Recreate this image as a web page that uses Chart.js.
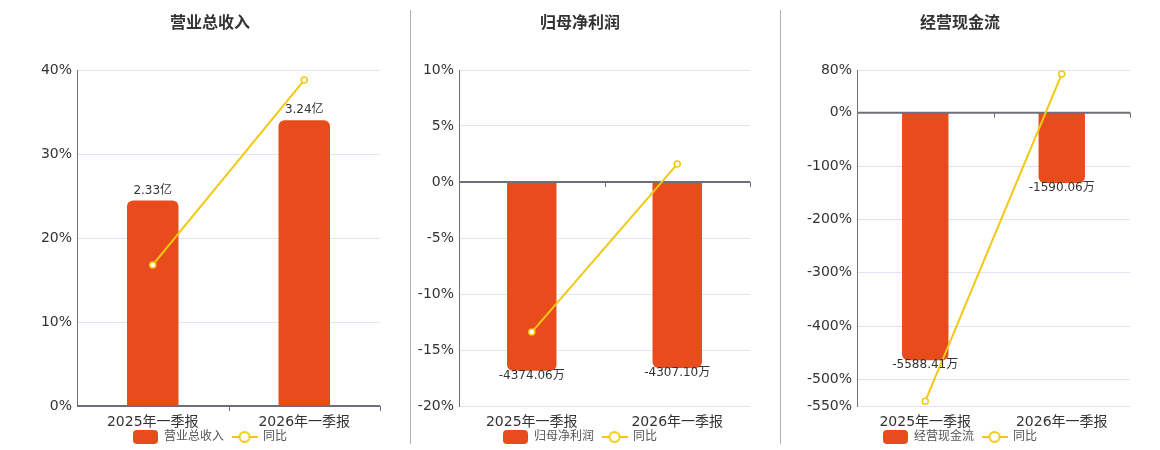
<!DOCTYPE html>
<html>
<head>
<meta charset="utf-8">
<script src="https://cdn.jsdelivr.net/npm/chart.js@4.4.1/dist/chart.umd.min.js"></script>
<style>
  body { margin: 0; background: #fff; width: 1160px; height: 450px; position: relative; overflow: hidden; }
  canvas { position: absolute; top: 0; }
  .sep { position: absolute; top: 10px; height: 434px; width: 1px; background: #b0b0b0; z-index: 2; }
</style>
</head>
<body>
<canvas id="revenueChart" width="420" height="450" style="left:0"></canvas>
<canvas id="profitChart" width="360" height="450" style="left:400px"></canvas>
<canvas id="cashChart" width="360" height="450" style="left:780px"></canvas>
<div class="sep" style="left:410px"></div>
<div class="sep" style="left:780px"></div>
<script>
// data
const periods = ["2025年一季报", "2026年一季报"];
const revenue = [2.33, 3.24]; // 亿
const revenueYoy = [16.8, 38.8]; // %
const netProfit = [-4374.06, -4307.1]; // 万
const netProfitYoy = [-13.4, 1.6];
const cashFlow = [-5588.41, -1590.06]; // 万
const cashFlowYoy = [-541, 72.3];
const revenueTicks = [0, 10, 20, 30, 40];
const profitTicks = [-20, -15, -10, -5, 0, 5, 10];
const cashTicks = [-550, -500, -400, -300, -200, -100, 0, 80];

const barColor = "#e84c1c";
const lineColor = "#f2c811";

Chart.defaults.font.family = '"DejaVu Sans", "Noto Sans CJK SC", sans-serif';
Chart.defaults.color = "#333";

// legend icons
const barIcon = document.createElement("canvas");
barIcon.width = 25;
barIcon.height = 14;
let g = barIcon.getContext("2d");
g.fillStyle = barColor;
g.beginPath();
g.roundRect(0, 0, 25, 14, 4);
g.fill();

const lineIcon = document.createElement("canvas");
lineIcon.width = 26;
lineIcon.height = 14;
g = lineIcon.getContext("2d");
g.strokeStyle = lineColor;
g.lineWidth = 2;
g.beginPath();
g.moveTo(0, 7);
g.lineTo(26, 7);
g.stroke();
g.beginPath();
g.arc(13, 7, 5, 0, Math.PI * 2);
g.fillStyle = "#fff";
g.fill();
g.stroke();

// zero axis line with small ticks, drawn right after the bars
const zeroAxis = {
  id: "zeroAxis",
  afterDatasetDraw(chart, args) {
    if (args.index !== 0) return;
    const { ctx, chartArea, scales } = chart;
    const y = scales.y.getPixelForValue(0);
    const n = chart.data.labels.length;
    const step = (chartArea.right - chartArea.left) / n;
    ctx.save();
    ctx.strokeStyle = "#6e7079";
    ctx.lineWidth = 2;
    ctx.beginPath();
    ctx.moveTo(chartArea.left, y);
    ctx.lineTo(chartArea.right, y);
    ctx.stroke();
    ctx.lineWidth = 1;
    ctx.beginPath();
    for (let i = 1; i <= n; i++) {
      const x = Math.round(chartArea.left + step * i) + 0.5;
      ctx.moveTo(x, y);
      ctx.lineTo(x, y + 5);
    }
    ctx.stroke();
    ctx.restore();
  },
};

// value labels above / below bars
const valueLabels = {
  id: "valueLabels",
  afterDatasetsDraw(chart, args, opts) {
    const ctx = chart.ctx;
    const data = chart.data.datasets[0].data;
    ctx.save();
    ctx.font = '12px "DejaVu Sans", "Noto Sans CJK SC"';
    ctx.fillStyle = "#333";
    ctx.textAlign = "center";
    chart.getDatasetMeta(0).data.forEach((bar, i) => {
      const text = data[i].toFixed(2) + opts.unit;
      if (data[i] >= 0) {
        ctx.textBaseline = "bottom";
        ctx.fillText(text, bar.x, bar.y - 4);
      } else {
        ctx.textBaseline = "top";
        ctx.fillText(text, bar.x, bar.y - 1);
      }
    });
    ctx.restore();
  },
};

function makeChart(id, title, name, values, unit, yoy, ticks, barMin, barMax, axisWidth, padRight) {
  return new Chart(document.getElementById(id), {
    type: "bar",
    data: {
      labels: periods,
      datasets: [
        {
          label: name,
          data: values,
          yAxisID: "yb",
          backgroundColor: barColor,
          borderRadius: 6,
          barPercentage: 0.34,
          categoryPercentage: 1,
          order: 1,
        },
        {
          type: "line",
          label: "同比",
          data: yoy,
          yAxisID: "y",
          borderColor: lineColor,
          borderWidth: 2,
          pointRadius: 3,
          pointBorderWidth: 1.5,
          pointBackgroundColor: "#fff",
          pointBorderColor: lineColor,
          tension: 0,
          order: 0,
        },
      ],
    },
    options: {
      responsive: false,
      animation: false,
      layout: { padding: { top: 0, left: 0, right: 0, bottom: -3 } },
      scales: {
        x: {
          grid: { display: false, drawTicks: false },
          border: { display: false },
          // mirror + negative padding keeps the labels below the axis without clipping
          ticks: { mirror: true, padding: -25, font: { size: 14 }, color: "#333" },
          afterFit(scale) {
            scale.height = 17;
          },
        },
        y: {
          position: "left",
          min: ticks[0],
          max: ticks[ticks.length - 1],
          afterBuildTicks(scale) {
            scale.ticks = ticks.map((v) => ({ value: v }));
          },
          afterFit(scale) {
            scale.width = axisWidth;
          },
          grid: { color: "#e0e6f1", drawTicks: false },
          border: { display: true, color: "#6e7079", width: 1 },
          ticks: {
            padding: 5,
            font: { size: 14 },
            color: "#333",
            callback: (v) => v + "%",
          },
        },
        yb: {
          position: "right",
          min: barMin,
          max: barMax,
          grid: { display: false, drawTicks: false },
          border: { display: false },
          ticks: { display: false },
          afterFit(scale) {
            scale.width = padRight;
          },
        },
      },
      plugins: {
        title: {
          display: true,
          text: title,
          font: { size: 16, weight: "bold" },
          color: "#333",
          padding: { top: 14, bottom: 36.8 },
        },
        legend: {
          position: "bottom",
          labels: {
            usePointStyle: true,
            pointStyleWidth: 25,
            padding: 8,
            color: "#555",
            font: { size: 12 },
            sort: (a, b) => a.datasetIndex - b.datasetIndex,
            generateLabels(chart) {
              const items = Chart.defaults.plugins.legend.labels.generateLabels(chart);
              items.forEach((it) => {
                it.pointStyle = it.datasetIndex === 0 ? barIcon : lineIcon;
              });
              return items;
            },
          },
        },
        tooltip: { enabled: false },
        valueLabels: { unit: unit },
      },
    },
    plugins: [zeroAxis, valueLabels],
  });
}

const revenueChart = makeChart("revenueChart", "营业总收入", "营业总收入", revenue, "亿", revenueYoy, revenueTicks, 0, 3.81, 77, 40);
const profitChart = makeChart("profitChart", "归母净利润", "归母净利润", netProfit, "万", netProfitYoy, profitTicks, -5190, 2595, 59, 10);
const cashChart = makeChart("cashChart", "经营现金流", "经营现金流", cashFlow, "万", cashFlowYoy, cashTicks, -6624, 963, 77, 10);
</script>
</body>
</html>
